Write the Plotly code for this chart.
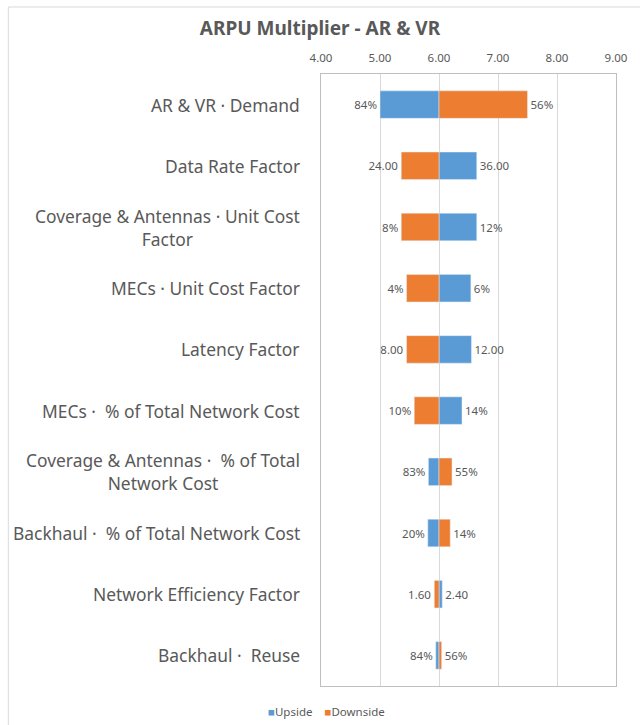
import plotly.graph_objects as go

# tornado chart - ARPU multiplier sensitivity (AR & VR)
base = 6.0

categories = [
    "AR & VR · Demand",
    "Data Rate Factor",
    "Coverage & Antennas · Unit Cost<br>Factor",
    "MECs · Unit Cost Factor",
    "Latency Factor",
    "MECs ·\u00a0 % of Total Network Cost",
    "Coverage & Antennas ·\u00a0 % of Total<br>Network Cost",
    "Backhaul ·\u00a0 % of Total Network Cost",
    "Network Efficiency Factor",
    "Backhaul ·\u00a0 Reuse",
]

# multiplier reached at each end of the swing
upside = [5.00, 6.64, 6.64, 6.54, 6.55, 6.39, 5.82, 5.81, 6.055, 5.945]
downside = [7.50, 5.36, 5.36, 5.45, 5.45, 5.58, 6.22, 6.19, 5.92, 6.045]

# input values shown next to the bars
upside_labels = ["84%", "36.00", "12%", "6%", "12.00", "14%", "83%", "20%", "2.40", "84%"]
downside_labels = ["56%", "24.00", "8%", "4%", "8.00", "10%", "55%", "14%", "1.60", "56%"]

x_ticks = [4, 5, 6, 7, 8, 9]

FONT = "Noto Sans"
GREY = "#595959"
BLUE = "#5B9BD5"
ORANGE = "#ED7D31"

fig = go.Figure()
fig.add_trace(go.Bar(
    name="Upside", y=categories, x=[v - base for v in upside], base=base,
    orientation="h", width=0.45, marker=dict(color=BLUE),
    text=upside_labels, textposition="outside", constraintext="none",
    textfont=dict(size=11.5, color=GREY, family=FONT), cliponaxis=False,
    hoverinfo="skip", showlegend=False,
))
fig.add_trace(go.Bar(
    name="Downside", y=categories, x=[v - base for v in downside], base=base,
    orientation="h", width=0.45, marker=dict(color=ORANGE),
    text=downside_labels, textposition="outside", constraintext="none",
    textfont=dict(size=11.5, color=GREY, family=FONT), cliponaxis=False,
    hoverinfo="skip", showlegend=False,
))

# category labels as annotations so that wrapped lines are centred
for c in categories:
    fig.add_annotation(
        x=0, xref="paper", y=c, yref="y", xanchor="right", yanchor="middle",
        xshift=-19, text=c, showarrow=False, align="center",
        font=dict(size=17.4, color=GREY, family=FONT),
    )

# compact Excel-style legend, centred under the whole chart
fig.add_annotation(
    x=0, xref="paper", y=-0.041, yref="paper", xanchor="center", yanchor="middle",
    xshift=5, showarrow=False,
    text=(f"<span style='color:{BLUE}'>■</span>Upside\u00a0\u00a0\u00a0\u00a0"
          f"<span style='color:{ORANGE}'>■</span>Downside"),
    font=dict(size=11.5, color=GREY, family=FONT),
)

# chart area border (top and left visible)
fig.add_shape(type="line", xref="paper", yref="paper", x0=-1.06, x1=1.2,
              y0=1.1095, y1=1.1095, line=dict(color="#d9d9d9", width=1))
fig.add_shape(type="line", xref="paper", yref="paper", x0=-1.06, x1=-1.06,
              y0=1.1095, y1=-0.1, line=dict(color="#d9d9d9", width=1))

fig.update_layout(
    width=640, height=725,
    margin=dict(l=321, r=21, t=74, b=39),
    paper_bgcolor="white", plot_bgcolor="white",
    barmode="overlay",
    font=dict(family=FONT, color=GREY),
    title=dict(text="<b>ARPU Multiplier - AR & VR</b>", x=0.5, xref="container",
               xanchor="center", y=1 - 28 / 725, yanchor="middle",
               font=dict(size=19, color=GREY, family=FONT)),
    xaxis=dict(side="top", range=[4, 9], tickvals=x_ticks, tickformat=".2f",
               showgrid=True, gridcolor="#d9d9d9", zeroline=False,
               showline=True, mirror=True, linecolor="#bfbfbf",
               tickfont=dict(size=11.5, color=GREY, family=FONT), ticks="",
               ticklabelstandoff=6),
    yaxis=dict(autorange="reversed", showticklabels=False, showgrid=False,
               showline=True, mirror=True, linecolor="#bfbfbf", ticks=""),
)

# drop the default page margin so the figure sits at the window origin
fig.write_html("out.html", config={"displayModeBar": False},
               post_script="document.body.style.margin='0';")
